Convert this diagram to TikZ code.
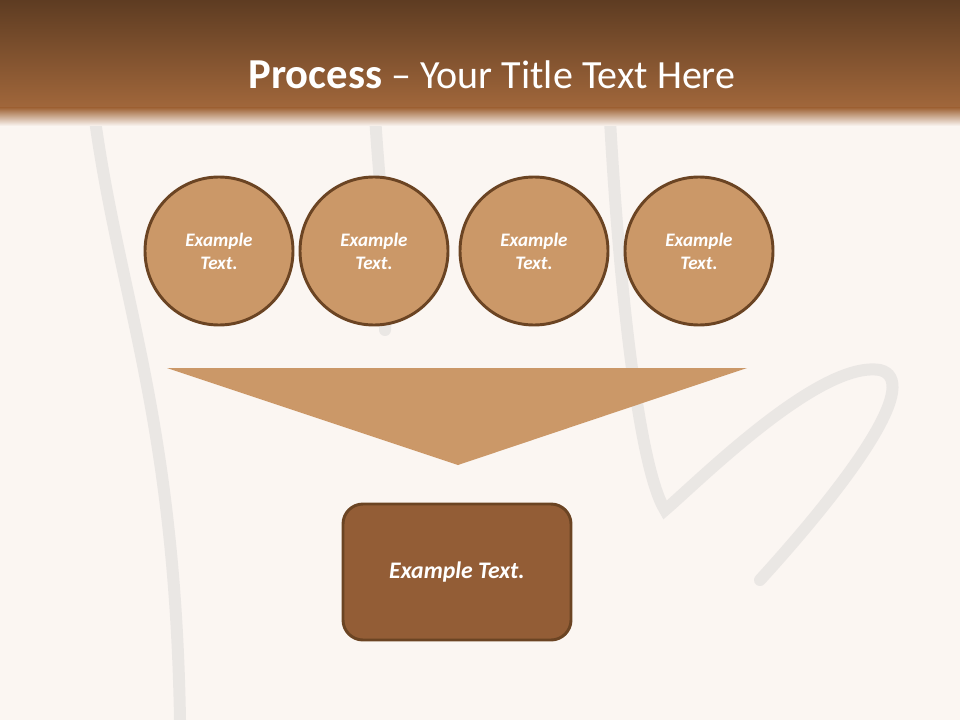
\documentclass[tikz,border=0pt]{standalone}
\usepackage{fontspec}
\setmainfont{Carlito}
\begin{document}
\begin{tikzpicture}[x=0.75pt,y=-0.75pt,
  stepcircle/.style={circle,draw=edgebrown,line width=2.2pt,fill=lightbrown,minimum size=148*0.75pt,inner sep=0pt,
     text=white,font=\fontsize{14.3}{17.3}\selectfont\bfseries\itshape,align=center},
  stepbox/.style={rounded corners=15pt,draw=edgebrown,line width=2.2pt,fill=darkbrown,minimum width=228*0.75pt,minimum height=136*0.75pt,
     text=white,font=\fontsize{17.8}{20}\selectfont\bfseries\itshape,align=center}]
\definecolor{edgebrown}{HTML}{6B4423}
\definecolor{lightbrown}{HTML}{CB9868}
\definecolor{darkbrown}{HTML}{935D36}
\definecolor{topbrown}{HTML}{5E3C22}
\definecolor{midbrown}{HTML}{A1673B}
\definecolor{bgwhite}{HTML}{FBF6F2}
\useasboundingbox (0,0) rectangle (960,720);
\fill[bgwhite] (0,0) rectangle (960,720);
% faint background texture hints
\begin{scope}[draw=gray!40,line width=9pt,line cap=round,opacity=0.35]
\draw (95,120) .. controls (120,300) and (175,420) .. (180,720);
\draw (375,115) .. controls (380,200) and (390,260) .. (385,330);
\draw (610,120) .. controls (620,300) and (640,470) .. (665,510) .. controls (700,480) and (820,360) .. (880,370) .. controls (920,380) and (860,470) .. (760,580);
\end{scope}
\shade[top color=topbrown,bottom color=midbrown] (0,0) rectangle (960,108);
\shade[top color=midbrown,bottom color=bgwhite] (0,108) rectangle (960,126);
\node[text=white] (title) at (492,75) {\fontsize{32}{36}\selectfont\textbf{Process}\fontsize{30}{36}\selectfont{} – Your Title Text Here};
\node[stepcircle] (c1) at (219,251) {Example\\Text.};
\node[stepcircle] (c2) at (374,251) {Example\\Text.};
\node[stepcircle] (c3) at (534,251) {Example\\Text.};
\node[stepcircle] (c4) at (699,251) {Example\\Text.};
\coordinate (tl) at (167,368);
\coordinate (tr) at (747,368);
\coordinate (tb) at (458,465);
\fill[lightbrown] (tl) -- (tr) -- (tb) -- cycle;
\node[stepbox] (box) at (457,572) {Example Text.};
\end{tikzpicture}
\end{document}
